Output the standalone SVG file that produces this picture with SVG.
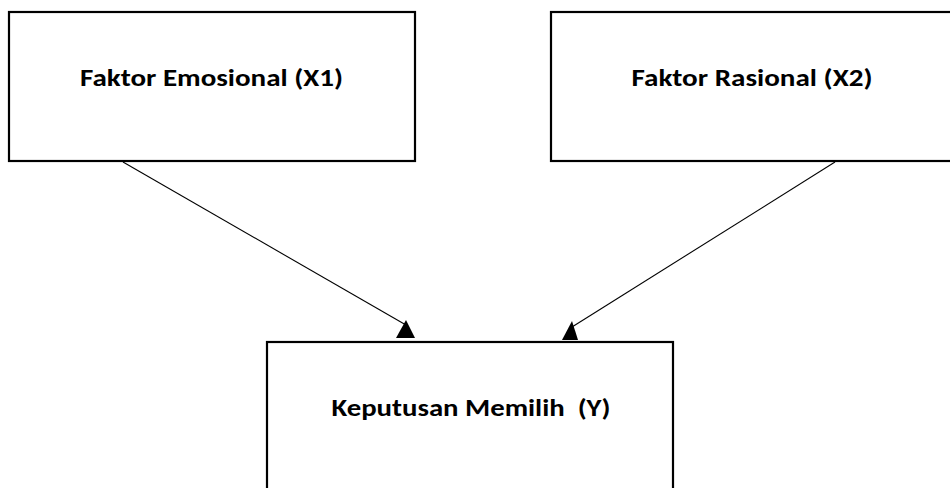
<svg xmlns="http://www.w3.org/2000/svg" width="950" height="488" viewBox="0 0 950 488">
  <style>
    .box { fill: #ffffff; stroke: #000000; stroke-width: 2.2; }
    .lbl { font-family: Carlito, "Liberation Sans", Arial, sans-serif; font-weight: bold; font-size: 25px; fill: #000000; text-anchor: middle; white-space: pre; }
    .conn { stroke: #000000; stroke-width: 1.1; fill: none; }
    .head { fill: #000000; stroke: none; }
  </style>
  <rect width="950" height="488" fill="#ffffff"/>
  <g id="node-x1">
    <rect class="box" x="9" y="12" width="406" height="149"/>
    <text class="lbl" x="211.5" y="86" textLength="263" lengthAdjust="spacingAndGlyphs">Faktor Emosional (X1)</text>
  </g>
  <g id="node-x2">
    <rect class="box" x="551" y="12" width="410" height="149"/>
    <text class="lbl" x="752" y="86" textLength="241" lengthAdjust="spacingAndGlyphs">Faktor Rasional (X2)</text>
  </g>
  <g id="node-y">
    <rect class="box" x="267" y="342" width="406" height="160"/>
    <text class="lbl" x="471" y="416" textLength="279" lengthAdjust="spacingAndGlyphs">Keputusan Memilih  (Y)</text>
  </g>
  <g id="connectors">
    <line class="conn" x1="123" y1="162" x2="406" y2="325"/>
    <polygon class="head" points="406,320 396,338 415,338"/>
    <line class="conn" x1="835" y1="162" x2="572" y2="327"/>
    <polygon class="head" points="572,321 562,340 578,340"/>
  </g>
</svg>
